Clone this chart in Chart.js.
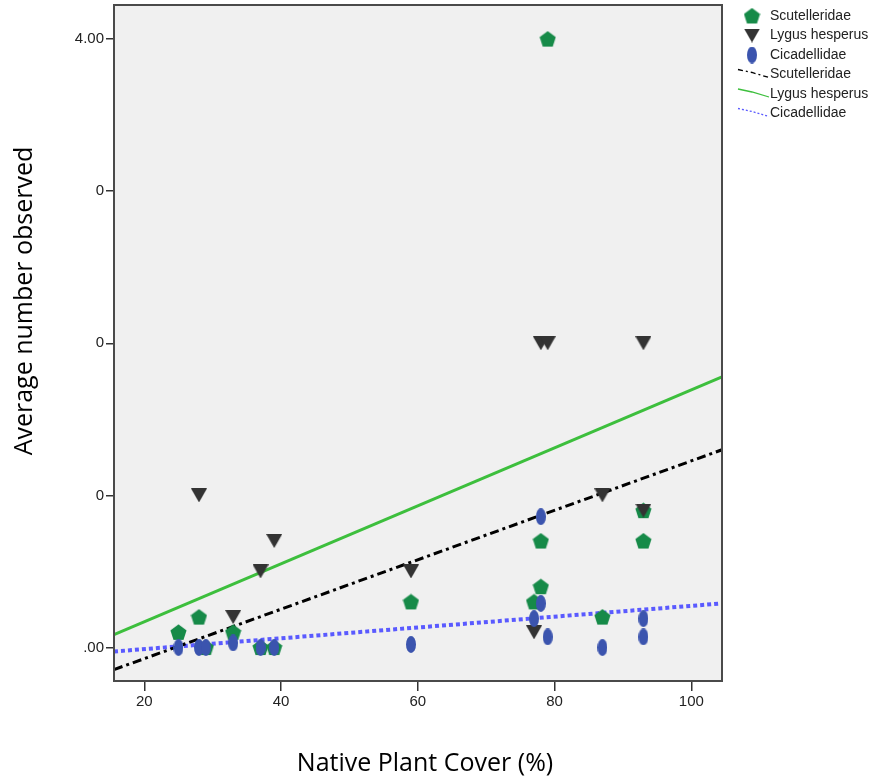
<!DOCTYPE html>
<html>
<head>
<meta charset="utf-8">
<script src="https://cdn.jsdelivr.net/npm/chart.js@4.4.1/dist/chart.umd.min.js"></script>
<style>
  html, body { margin: 0; padding: 0; background: #fff; }
  canvas { display: block; }
</style>
</head>
<body>
<canvas id="scatterChart" width="881" height="782"></canvas>
<script>
// --- data ---
const scutX = [25, 28, 29, 33, 37, 39, 59, 77, 78, 78, 79, 87, 93, 93];
const scutY = [0.1, 0.2, 0, 0.1, 0, 0, 0.3, 0.3, 0.4, 0.7, 4.0, 0.2, 0.9, 0.7];

const lygusX = [28, 33, 37, 39, 59, 77, 78, 79, 87, 93, 93];
const lygusY = [1.0, 0.2, 0.5, 0.7, 0.5, 0.1, 2.0, 2.0, 1.0, 2.0, 0.9];

const cicaX = [25, 28, 29, 33, 37, 39, 59, 77, 78, 78, 79, 87, 93, 93];
const cicaY = [0, 0, 0, 0.03, 0, 0, 0.02, 0.19, 0.29, 0.86, 0.07, 0, 0.19, 0.07];

// fit lines (end points at the plot edges)
const fitX = [15.57, 104.49];
const scutFitY = [-0.145, 1.30];
const lygusFitY = [0.085, 1.78];
const cicaFitY = [-0.026, 0.29];

const xTickValues = [20, 40, 60, 80, 100];
const yTickValues = [0, 1, 2, 3, 4];
const yTickLabels = ['.00', '0', '0', '0', '4.00'];

const seriesNames = ['Scutelleridae', 'Lygus hesperus', 'Cicadellidae'];

const GREEN = '#168a48';
const DARK = '#333333';
const BLUE = '#3b54ae';

function toPoints(xs, ys) {
  return xs.map((x, i) => ({ x: x, y: ys[i] }));
}

// marker images
function makePentagon(size, color) {
  const c = document.createElement('canvas');
  c.width = size; c.height = size;
  const g = c.getContext('2d');
  const r = size / 2;
  g.beginPath();
  for (let i = 0; i < 5; i++) {
    const a = -Math.PI / 2 + i * 2 * Math.PI / 5;
    const px = r + r * Math.cos(a);
    const py = r + 0.6 + r * Math.sin(a);
    if (i === 0) g.moveTo(px, py); else g.lineTo(px, py);
  }
  g.closePath();
  g.fillStyle = color;
  g.fill();
  return c;
}

function makeTriangleDown(w, h, color) {
  const c = document.createElement('canvas');
  c.width = w; c.height = h;
  const g = c.getContext('2d');
  g.beginPath();
  g.moveTo(0, 0);
  g.lineTo(w, 0);
  g.lineTo(w / 2, h);
  g.closePath();
  g.fillStyle = color;
  g.fill();
  return c;
}

function makeEllipse(w, h, color) {
  const c = document.createElement('canvas');
  c.width = w; c.height = h;
  const g = c.getContext('2d');
  g.beginPath();
  g.ellipse(w / 2, h / 2, w / 2, h / 2, 0, 0, Math.PI * 2);
  g.fillStyle = color;
  g.fill();
  return c;
}

const pentImg = makePentagon(17, GREEN);
const triImg = makeTriangleDown(16, 14, DARK);
const ellImg = makeEllipse(10, 17, BLUE);

// plot background and frame
const plotFrame = {
  id: 'plotFrame',
  beforeDatasetsDraw(chart) {
    const { ctx, chartArea: a } = chart;
    ctx.save();
    ctx.fillStyle = '#f0f0f0';
    ctx.fillRect(a.left, a.top, a.right - a.left, a.bottom - a.top);
    ctx.restore();
  },
  afterDraw(chart) {
    const { ctx, chartArea: a } = chart;
    ctx.save();
    ctx.strokeStyle = '#4a4a4a';
    ctx.lineWidth = 2;
    ctx.strokeRect(a.left, a.top, a.right - a.left, a.bottom - a.top);

    // axis titles
    ctx.fillStyle = '#000';
    ctx.font = '25px "Open Sans"';
    ctx.textAlign = 'center';
    ctx.textBaseline = 'middle';
    ctx.fillText('Native Plant Cover (%)', 425, 764);
    ctx.translate(25, 301);
    ctx.rotate(-Math.PI / 2);
    ctx.fillText('Average number observed', 0, 0);
    ctx.restore();

    // legend
    ctx.save();
    ctx.font = '14px "Liberation Sans"';
    ctx.fillStyle = '#222';
    ctx.textAlign = 'left';
    ctx.textBaseline = 'middle';
    const imgs = [pentImg, triImg, ellImg];
    const lineStyles = [
      { color: '#000', dash: [5, 3, 2, 3], width: 1.3 },
      { color: '#3dbf3d', dash: [], width: 1.3 },
      { color: '#5a5aff', dash: [2, 2], width: 1.3 }
    ];
    for (let i = 0; i < 3; i++) {
      const y = 16 + i * 19.5;
      const im = imgs[i];
      ctx.drawImage(im, 752 - im.width / 2, y - im.height / 2);
      ctx.fillText(seriesNames[i], 770, y);
    }
    for (let i = 0; i < 3; i++) {
      const y = 74.5 + i * 19.5;
      const s = lineStyles[i];
      ctx.beginPath();
      ctx.setLineDash(s.dash);
      ctx.strokeStyle = s.color;
      ctx.lineWidth = s.width;
      ctx.moveTo(738, y - 5);
      ctx.lineTo(752, y - 2);
      ctx.lineTo(769, y + 3);
      ctx.stroke();
      ctx.setLineDash([]);
      ctx.fillText(seriesNames[i], 770, y);
    }
    ctx.restore();
  }
};

const ctx = document.getElementById('scatterChart').getContext('2d');
new Chart(ctx, {
  type: 'scatter',
  data: {
    datasets: [
      {
        label: seriesNames[0],
        data: toPoints(scutX, scutY),
        pointStyle: pentImg,
        order: 3
      },
      {
        label: seriesNames[1],
        data: toPoints(lygusX, lygusY),
        pointStyle: triImg,
        order: 2
      },
      {
        label: seriesNames[2],
        data: toPoints(cicaX, cicaY),
        pointStyle: ellImg,
        order: 1
      },
      {
        label: seriesNames[0] + ' fit',
        type: 'line',
        data: toPoints(fitX, scutFitY),
        borderColor: '#000',
        borderWidth: 3,
        borderDash: [9, 4, 3, 4],
        pointRadius: 0,
        order: 10
      },
      {
        label: seriesNames[1] + ' fit',
        type: 'line',
        data: toPoints(fitX, lygusFitY),
        borderColor: '#3dbf3d',
        borderWidth: 3,
        pointRadius: 0,
        order: 11
      },
      {
        label: seriesNames[2] + ' fit',
        type: 'line',
        data: toPoints(fitX, cicaFitY),
        borderColor: '#5a5aff',
        borderWidth: 4,
        borderDash: [4, 3],
        pointRadius: 0,
        order: 12
      }
    ]
  },
  options: {
    responsive: false,
    animation: false,
    layout: { padding: { top: 5, right: 159, left: 0, bottom: 0 } },
    plugins: {
      legend: { display: false },
      tooltip: { enabled: false }
    },
    scales: {
      x: {
        type: 'linear',
        min: 15.57,
        max: 104.49,
        afterBuildTicks: (scale) => { scale.ticks = xTickValues.map(v => ({ value: v })); },
        afterFit: (scale) => { scale.height = 101; },
        border: { display: false },
        grid: { drawOnChartArea: false, drawTicks: true, tickLength: 10, color: '#333', lineWidth: 1.5 },
        ticks: { color: '#222', font: { family: 'Liberation Sans', size: 15 }, padding: 2, maxRotation: 0 }
      },
      y: {
        type: 'linear',
        min: -0.22,
        max: 4.224,
        afterBuildTicks: (scale) => { scale.ticks = yTickValues.map(v => ({ value: v })); },
        afterFit: (scale) => {
          scale.width = 114;
          scale.paddingTop = 0;
          scale.paddingBottom = 0;
        },
        border: { display: false },
        grid: { drawOnChartArea: false, drawTicks: true, tickLength: 8, color: '#333', lineWidth: 1.5 },
        ticks: {
          color: '#222',
          font: { family: 'Liberation Sans', size: 15 },
          padding: 2,
          callback: (value, index) => yTickLabels[index]
        }
      }
    }
  },
  plugins: [plotFrame]
});
</script>
</body>
</html>
